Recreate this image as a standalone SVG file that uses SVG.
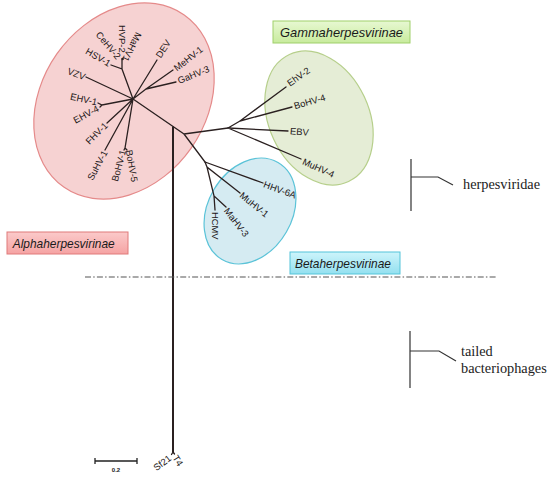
<svg xmlns="http://www.w3.org/2000/svg" width="550" height="479" viewBox="0 0 550 479">
<style>
.br{stroke:#2a2020;stroke-width:1.3;fill:none;stroke-linecap:round}
.lf{font-family:"Liberation Sans",Arial,sans-serif;font-size:9.4px;fill:#1c1616}
.box{font-family:"Liberation Sans",Arial,sans-serif;font-size:13px;font-style:italic;fill:#1a1a1a}
.ser{font-family:"Liberation Serif","Times New Roman",serif;font-size:14.3px;fill:#222}
.brk{stroke:#333;stroke-width:1.2;fill:none}
</style>
<defs>
<linearGradient id="gA" x1="0" y1="0" x2="0" y2="1"><stop offset="0" stop-color="#fbcaca"/><stop offset="1" stop-color="#f5a3a3"/></linearGradient>
<linearGradient id="gB" x1="0" y1="0" x2="0" y2="1"><stop offset="0" stop-color="#cdf4fb"/><stop offset="1" stop-color="#93e0f0"/></linearGradient>
<linearGradient id="gG" x1="0" y1="0" x2="0" y2="1"><stop offset="0" stop-color="#e7f8d2"/><stop offset="1" stop-color="#c8eb9d"/></linearGradient>
</defs>
<rect width="550" height="479" fill="#fff"/>

<g id="clade-alpha"><ellipse cx="124" cy="101" rx="82" ry="105" transform="rotate(35 124 101)" fill="#f6d2d2" stroke="#e58a8a" stroke-width="1.2"/></g>
<g id="clade-gamma"><ellipse cx="319" cy="118" rx="50" ry="70" transform="rotate(-25 319 118)" fill="#e5edd6" stroke="#b6cf8b" stroke-width="1.2"/></g>
<g id="clade-beta"><ellipse cx="250" cy="211" rx="42" ry="56" transform="rotate(30 250 211)" fill="#d5ebf2" stroke="#5bc3d8" stroke-width="1.2"/></g>

<g id="connectors">
<path class="br" d="M133 99L184 134M184 134L228 128M184 134L205 162"/>
<path d="M173 126.5V452" stroke="#2a2020" stroke-width="2" fill="none"/>
<path class="br" d="M173 452L171.5 454.5M173 452L174.5 454"/>
<path class="br" d="M133 99L86 77M133 99L122 69L111 65M122 69V60M133 99L157 60M133 99L146 89L173 70M146 89L176 82M133 99L102 105L98 103M102 105L100 107M133 99L107 123M133 99L105 150M133 99L125 148L124 150M125 148L127 150"/>
<circle cx="122.5" cy="59" r="1.3" fill="#2a2020"/>
<path class="br" d="M228 128L240 121L286 87M240 121L292 107M228 128L288 131M228 128L301 159"/>
<path class="br" d="M205 162L263 183M205 162L207 167L240 193M207 167L214 196L226 207M214 196L215 210"/>
<path d="M85 277H497" stroke="#555" stroke-width="1.1" stroke-dasharray="6 2.2 1.5 2.2" fill="none"/>
</g>

<g id="alpha-leaves">
<text class="lf" dy=".35em" text-anchor="end" transform="translate(85 77) rotate(20)">VZV</text>
<text class="lf" dy=".35em" text-anchor="end" transform="translate(110 64) rotate(30)">HSV-1</text>
<text class="lf" dy=".35em" text-anchor="end" transform="translate(119 58) rotate(50)">CeHV-2</text>
<text class="lf" dy=".35em" transform="translate(122 25) rotate(90)">HVP-2</text>
<text class="lf" dy=".35em" transform="translate(139 33) rotate(117)">MaHV1</text>
<text class="lf" dy=".35em" transform="translate(158 57) rotate(-57)">DEV</text>
<text class="lf" dy=".35em" transform="translate(175 69) rotate(-38)">MeHV-1</text>
<text class="lf" dy=".35em" transform="translate(178 81) rotate(-22)">GaHV-3</text>
<text class="lf" dy=".35em" text-anchor="end" transform="translate(97 102) rotate(12)">EHV-1</text>
<text class="lf" dy=".35em" text-anchor="end" transform="translate(98 108) rotate(-28)">EHV-4</text>
<text class="lf" dy=".35em" text-anchor="end" transform="translate(106 124) rotate(-45)">FHV-1</text>
<text class="lf" dy=".35em" text-anchor="end" transform="translate(105 151) rotate(-62)">SuHV-1</text>
<text class="lf" dy=".35em" text-anchor="end" transform="translate(123 150) rotate(-75)">BoHV-1</text>
<text class="lf" dy=".35em" transform="translate(129 150) rotate(80)">BoHV-5</text>
</g>
<g id="gamma-leaves">
<text class="lf" dy=".35em" transform="translate(288 84) rotate(-35)">EhV-2</text>
<text class="lf" dy=".35em" transform="translate(294 106) rotate(-16)">BoHV-4</text>
<text class="lf" dy=".35em" transform="translate(290 131) rotate(5)">EBV</text>
<text class="lf" dy=".35em" transform="translate(303 161) rotate(24)">MuHV-4</text>
</g>
<g id="beta-leaves">
<text class="lf" dy=".35em" transform="translate(264 184) rotate(20)">HHV-6A</text>
<text class="lf" dy=".35em" transform="translate(241 194) rotate(39)">MuHV-1</text>
<text class="lf" dy=".35em" transform="translate(226 209) rotate(52)">MaHV-3</text>
<text class="lf" dy=".35em" transform="translate(215 212) rotate(90)">HCMV</text>
</g>
<g id="phage-leaves">
<text class="lf" dy=".35em" text-anchor="end" transform="translate(170 457) rotate(-37)">Sf21</text>
<text class="lf" dy=".35em" transform="translate(175 456) rotate(58)">T4</text>
</g>

<g id="scale-bar">
<path d="M95 461H137M95 458V464M137 458V464" stroke="#222" stroke-width="1.3" fill="none"/>
<text x="116" y="472" text-anchor="middle" font-family="Liberation Sans,Arial,sans-serif" font-size="6" font-weight="bold" fill="#222">0.2</text>
</g>

<g id="label-alpha">
<rect x="7" y="232" width="121" height="22" fill="url(#gA)" stroke="#e07a7a" stroke-width="1"/>
<text class="box" x="12.7" y="248" textLength="102" lengthAdjust="spacingAndGlyphs">Alphaherpesvirinae</text>
</g>
<g id="label-beta">
<rect x="290" y="252" width="110" height="22" fill="url(#gB)" stroke="#55c4d9" stroke-width="1"/>
<text class="box" x="295" y="268" textLength="96" lengthAdjust="spacingAndGlyphs">Betaherpesvirinae</text>
</g>
<g id="label-gamma">
<rect x="273" y="21" width="137" height="22" fill="url(#gG)" stroke="#9fcf6a" stroke-width="1"/>
<text class="box" x="280" y="37" textLength="123" lengthAdjust="spacingAndGlyphs">Gammaherpesvirinae</text>
</g>

<g id="bracket-herpesviridae">
<path class="brk" d="M411 159V211M411 177H438L453 185"/>
<text class="ser" x="463" y="189">herpesviridae</text>
</g>
<g id="bracket-phages">
<path class="brk" d="M410 331V388M410 351H439L456 361"/>
<text class="ser" x="461" y="356">tailed</text>
<text class="ser" x="461" y="373">bacteriophages</text>
</g>
</svg>
